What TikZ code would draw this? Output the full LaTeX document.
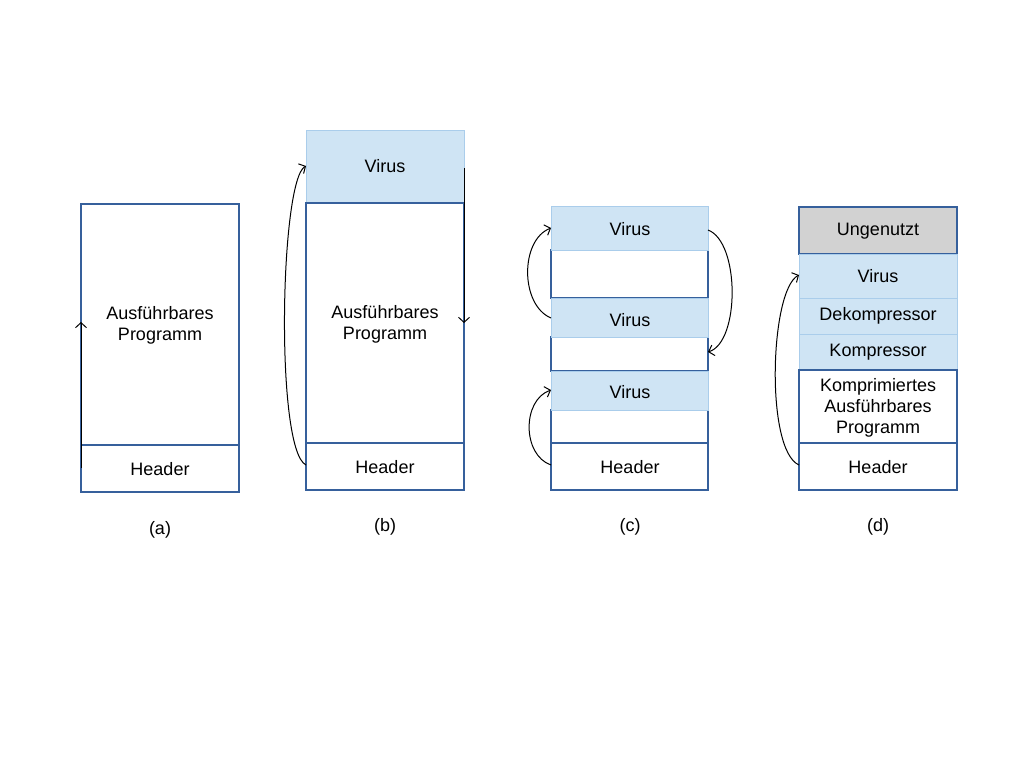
\documentclass[tikz,border=0pt]{standalone}
\usepackage{fontspec}
\setmainfont{Liberation Sans}
\usetikzlibrary{arrows.meta}
\definecolor{bd}{RGB}{54,96,156}
\definecolor{vf}{RGB}{207,228,244}
\definecolor{vb}{RGB}{170,205,235}
\definecolor{gf}{RGB}{210,210,210}
\begin{document}
\begin{tikzpicture}[x=1pt,y=-1pt,
  txt/.style={font=\fontsize{18}{21}\selectfont,align=center},
  plain/.style={draw=bd,line width=1.3pt,fill=white},
  vir/.style={draw=vb,line width=0.8pt,fill=vf},
  gray/.style={draw=bd,line width=1.3pt,fill=gf},
  arr/.style={line width=1pt,-{Straight Barb[length=5pt,width=11pt]}}]
\useasboundingbox (0,0) rectangle (1024,768);
% (a)
\draw[plain] (81,204) rectangle (239,445);
\draw[plain] (81,445) rectangle (239,492);
\node[txt] (aprog) at (160,325) {Ausführbares\\Programm};
\node[txt] (ahead) at (160,469) {Header};
\coordinate (a1) at (81,468); \coordinate (a2) at (81,322);
\draw[arr] (a1) -- (a2);
\node[txt] (la) at (160,530) {(a)};
% (b)
\draw[vir] (306,130) rectangle (464,203);
\draw[plain] (306,203) rectangle (464,443);
\draw[plain] (306,443) rectangle (464,490);
\node[txt] (bvir) at (385,166) {Virus};
\node[txt] (bprog) at (385,324) {Ausführbares\\Programm};
\node[txt] (bhead) at (385,467) {Header};
\coordinate (b1) at (306,465); \coordinate (b2) at (306,166);
\draw[arr] (b1) .. controls (275,450) and (280,180) .. (b2);
\coordinate (b3) at (464,168); \coordinate (b4) at (464,323);
\draw[arr] (b3) -- (b4);
\node[txt] (lb) at (385,527) {(b)};
% (c)
\draw[plain] (551,250) rectangle (708,298);
\draw[plain] (551,337) rectangle (708,371);
\draw[plain] (551,410) rectangle (708,443);
\draw[plain] (551,443) rectangle (708,490);
\draw[vir] (551,206) rectangle (708,250);
\draw[vir] (551,298) rectangle (708,337);
\draw[vir] (551,371) rectangle (708,410);
\node[txt] (cv1) at (630,229) {Virus};
\node[txt] (cv2) at (630,320) {Virus};
\node[txt] (cv3) at (630,392) {Virus};
\node[txt] (chead) at (630,467) {Header};
\coordinate (c1) at (551,318); \coordinate (c2) at (551,228);
\draw[arr] (c1) .. controls (520,305) and (520,240) .. (c2);
\coordinate (c3) at (708,230); \coordinate (c4) at (708,352);
\draw[arr] (c3) .. controls (740,242) and (740,342) .. (c4);
\coordinate (c5) at (551,465); \coordinate (c6) at (551,390);
\draw[arr] (c5) .. controls (522,455) and (522,400) .. (c6);
\node[txt] (lc) at (630,527) {(c)};
% (d)
\draw[gray] (799,207) rectangle (957,254);
\draw[vir] (799,254) rectangle (957,298);
\draw[vir] (799,298) rectangle (957,334);
\draw[vir] (799,334) rectangle (957,370);
\draw[plain] (799,370) rectangle (957,443);
\draw[plain] (799,443) rectangle (957,490);
\node[txt] (dun) at (878,231) {Ungenutzt};
\node[txt] (dvir) at (878,276) {Virus};
\node[txt] (ddek) at (878,316) {Dekompressor};
\node[txt] (dkom) at (878,352) {Kompressor};
\node[txt] (dprog) at (878,408) {Komprimiertes\\Ausführbares\\Programm};
\node[txt] (dhead) at (878,467) {Header};
\coordinate (d1) at (799,465); \coordinate (d2) at (799,275);
\draw[arr] (d1) .. controls (765,450) and (770,290) .. (d2);
\node[txt] (ld) at (878,527) {(d)};
\end{tikzpicture}
\end{document}
